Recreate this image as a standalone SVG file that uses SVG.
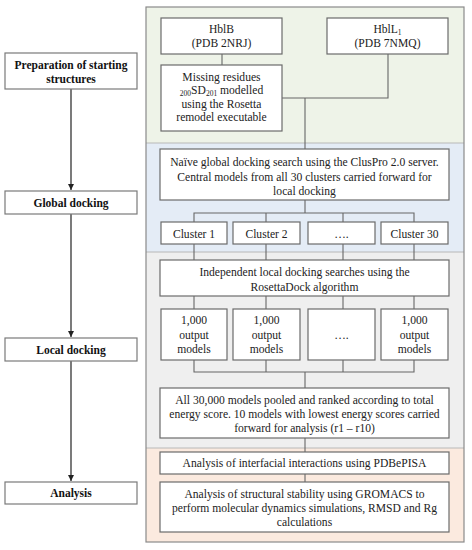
<svg xmlns="http://www.w3.org/2000/svg" width="472" height="550" viewBox="0 0 472 550" font-family="'Liberation Serif', 'Times New Roman', Times, serif">
<style>
.bx{fill:#fff;stroke:#6b6b6b;stroke-width:1.2}
.lb{fill:#fff;stroke:#7a7a7a;stroke-width:1.2}
.t{font-family:'Liberation Serif','Times New Roman',serif;font-size:11.6px;fill:#222;text-anchor:middle}
.tb{font-family:'Liberation Serif','Times New Roman',serif;font-size:11.5px;font-weight:bold;fill:#111;text-anchor:middle}
.ln{fill:none;stroke:#666;stroke-width:1.1}
.ar{fill:none;stroke:#222;stroke-width:1.2}
.s{font-size:7.5px}
</style>
<defs>
<marker id="ah" markerWidth="8" markerHeight="8" refX="6" refY="3" orient="auto" markerUnits="userSpaceOnUse">
<path d="M0,0 L6,3 L0,6 Z" fill="#222"/>
</marker>
</defs>
<rect width="472" height="550" fill="#fff"/>
<g id="panel">
<rect x="146" y="7" width="318" height="136" fill="#eef3e8"/>
<rect x="146" y="143" width="318" height="109" fill="#e4ecf6"/>
<rect x="146" y="252" width="318" height="196" fill="#efefef"/>
<rect x="146" y="448" width="318" height="94" fill="#fbeadf"/>
<line x1="146" y1="143" x2="464" y2="143" stroke="#b8b8b8" stroke-width="1"/>
<line x1="146" y1="252" x2="464" y2="252" stroke="#b8b8b8" stroke-width="1"/>
<line x1="146" y1="448" x2="464" y2="448" stroke="#b8b8b8" stroke-width="1"/>
<rect x="146" y="7" width="318" height="535" fill="none" stroke="#8a8a8a" stroke-width="1.2"/>
</g>
<g id="connectors">
<line class="ar" x1="71" y1="89" x2="71" y2="190" marker-end="url(#ah)"/>
<line class="ar" x1="71" y1="214" x2="71" y2="337" marker-end="url(#ah)"/>
<line class="ar" x1="71" y1="361" x2="71" y2="481" marker-end="url(#ah)"/>
<line class="ln" x1="222" y1="54" x2="222" y2="65"/>
<polyline class="ln" points="388,54 388,98 282,98"/>
<line class="ln" x1="305" y1="98" x2="305" y2="149"/>
<line class="ln" x1="305" y1="200" x2="305" y2="213"/>
<polyline class="ln" points="194,222 194,213 414,213 414,222"/>
<line class="ln" x1="266" y1="213" x2="266" y2="222"/>
<line class="ln" x1="343" y1="213" x2="343" y2="222"/>
<line class="ln" x1="194" y1="244" x2="194" y2="260"/>
<line class="ln" x1="266" y1="244" x2="266" y2="260"/>
<line class="ln" x1="343" y1="244" x2="343" y2="260"/>
<line class="ln" x1="414" y1="244" x2="414" y2="260"/>
<line class="ln" x1="194" y1="296" x2="194" y2="309"/>
<line class="ln" x1="266" y1="296" x2="266" y2="309"/>
<line class="ln" x1="343" y1="296" x2="343" y2="309"/>
<line class="ln" x1="414" y1="296" x2="414" y2="309"/>
<polyline class="ln" points="194,360 194,372 414,372 414,360"/>
<line class="ln" x1="266" y1="360" x2="266" y2="372"/>
<line class="ln" x1="343" y1="360" x2="343" y2="372"/>
<line class="ln" x1="305" y1="372" x2="305" y2="388"/>
<line class="ln" x1="305" y1="438" x2="305" y2="452"/>
<line class="ln" x1="305" y1="474" x2="305" y2="482"/>
</g>
<g id="prep">
<rect class="lb" x="5" y="53" width="132" height="36"/>
<text class="tb" x="71" y="69">Preparation of starting</text>
<text class="tb" x="71" y="83">structures</text>
</g>
<g id="global">
<rect class="lb" x="5" y="191" width="132" height="23"/>
<text class="tb" x="71" y="207">Global docking</text>
</g>
<g id="local">
<rect class="lb" x="5" y="338" width="132" height="23"/>
<text class="tb" x="71" y="354">Local docking</text>
</g>
<g id="analysis">
<rect class="lb" x="5" y="482" width="132" height="22"/>
<text class="tb" x="71" y="497">Analysis</text>
</g>
<g id="hblb">
<rect class="bx" x="161" y="18" width="121" height="36"/>
<text class="t" x="221.5" y="33">HblB</text>
<text class="t" x="221.5" y="47">(PDB 2NRJ)</text>
</g>
<g id="hbll1">
<rect class="bx" x="327" y="18" width="121" height="36"/>
<text class="t" x="387.5" y="33">HblL<tspan class="s" dy="2">1</tspan></text>
<text class="t" x="387.5" y="47">(PDB 7NMQ)</text>
</g>
<g id="missing">
<rect class="bx" x="161" y="65" width="121" height="66"/>
<text class="t" x="221.5" y="81">Missing residues</text>
<text class="t" x="221.5" y="94"><tspan class="s" dy="2">200</tspan><tspan dy="-2">SD</tspan><tspan class="s" dy="2">201</tspan><tspan dy="-2"> modelled</tspan></text>
<text class="t" x="221.5" y="108">using the Rosetta</text>
<text class="t" x="221.5" y="121">remodel executable</text>
</g>
<g id="cluspro">
<rect class="bx" x="160" y="149" width="289" height="51"/>
<text class="t" x="304.5" y="166">Naïve global docking search using the ClusPro 2.0 server.</text>
<text class="t" x="304.5" y="181">Central models from all 30 clusters carried forward for</text>
<text class="t" x="304.5" y="195">local docking</text>
</g>
<g id="cluster1">
<rect class="bx" x="161" y="222" width="66" height="22"/>
<text class="t" x="194" y="238">Cluster 1</text>
</g>
<g id="cluster2">
<rect class="bx" x="233" y="222" width="67" height="22"/>
<text class="t" x="266.5" y="238">Cluster 2</text>
</g>
<g id="clusterdots">
<rect class="bx" x="308" y="222" width="67" height="22"/>
<text class="t" x="341.5" y="238">….</text>
</g>
<g id="cluster30">
<rect class="bx" x="381" y="222" width="67" height="22"/>
<text class="t" x="414.5" y="238">Cluster 30</text>
</g>
<g id="rosettadock">
<rect class="bx" x="160" y="260" width="289" height="36"/>
<text class="t" x="304.5" y="276">Independent local docking searches using the</text>
<text class="t" x="304.5" y="291">RosettaDock algorithm</text>
</g>
<g id="out1">
<rect class="bx" x="161" y="309" width="66" height="51"/>
<text class="t" x="194" y="324">1,000</text>
<text class="t" x="194" y="339">output</text>
<text class="t" x="194" y="353">models</text>
</g>
<g id="out2">
<rect class="bx" x="233" y="309" width="67" height="51"/>
<text class="t" x="266.5" y="324">1,000</text>
<text class="t" x="266.5" y="339">output</text>
<text class="t" x="266.5" y="353">models</text>
</g>
<g id="outdots">
<rect class="bx" x="308" y="309" width="67" height="51"/>
<text class="t" x="341.5" y="339">….</text>
</g>
<g id="out30">
<rect class="bx" x="381" y="309" width="67" height="51"/>
<text class="t" x="414.5" y="324">1,000</text>
<text class="t" x="414.5" y="339">output</text>
<text class="t" x="414.5" y="353">models</text>
</g>
<g id="pooled">
<rect class="bx" x="160" y="388" width="289" height="50"/>
<text class="t" x="304.5" y="404">All 30,000 models pooled and ranked according to total</text>
<text class="t" x="304.5" y="418">energy score. 10 models with lowest energy scores carried</text>
<text class="t" x="304.5" y="432">forward for analysis (r1 – r10)</text>
</g>
<g id="pisa">
<rect class="bx" x="160" y="452" width="289" height="22"/>
<text class="t" x="304.5" y="467">Analysis of interfacial interactions using PDBePISA</text>
</g>
<g id="gromacs">
<rect class="bx" x="160" y="482" width="289" height="50"/>
<text class="t" x="304.5" y="498">Analysis of structural stability using GROMACS to</text>
<text class="t" x="304.5" y="512">perform molecular dynamics simulations, RMSD and Rg</text>
<text class="t" x="304.5" y="526">calculations</text>
</g>
</svg>
